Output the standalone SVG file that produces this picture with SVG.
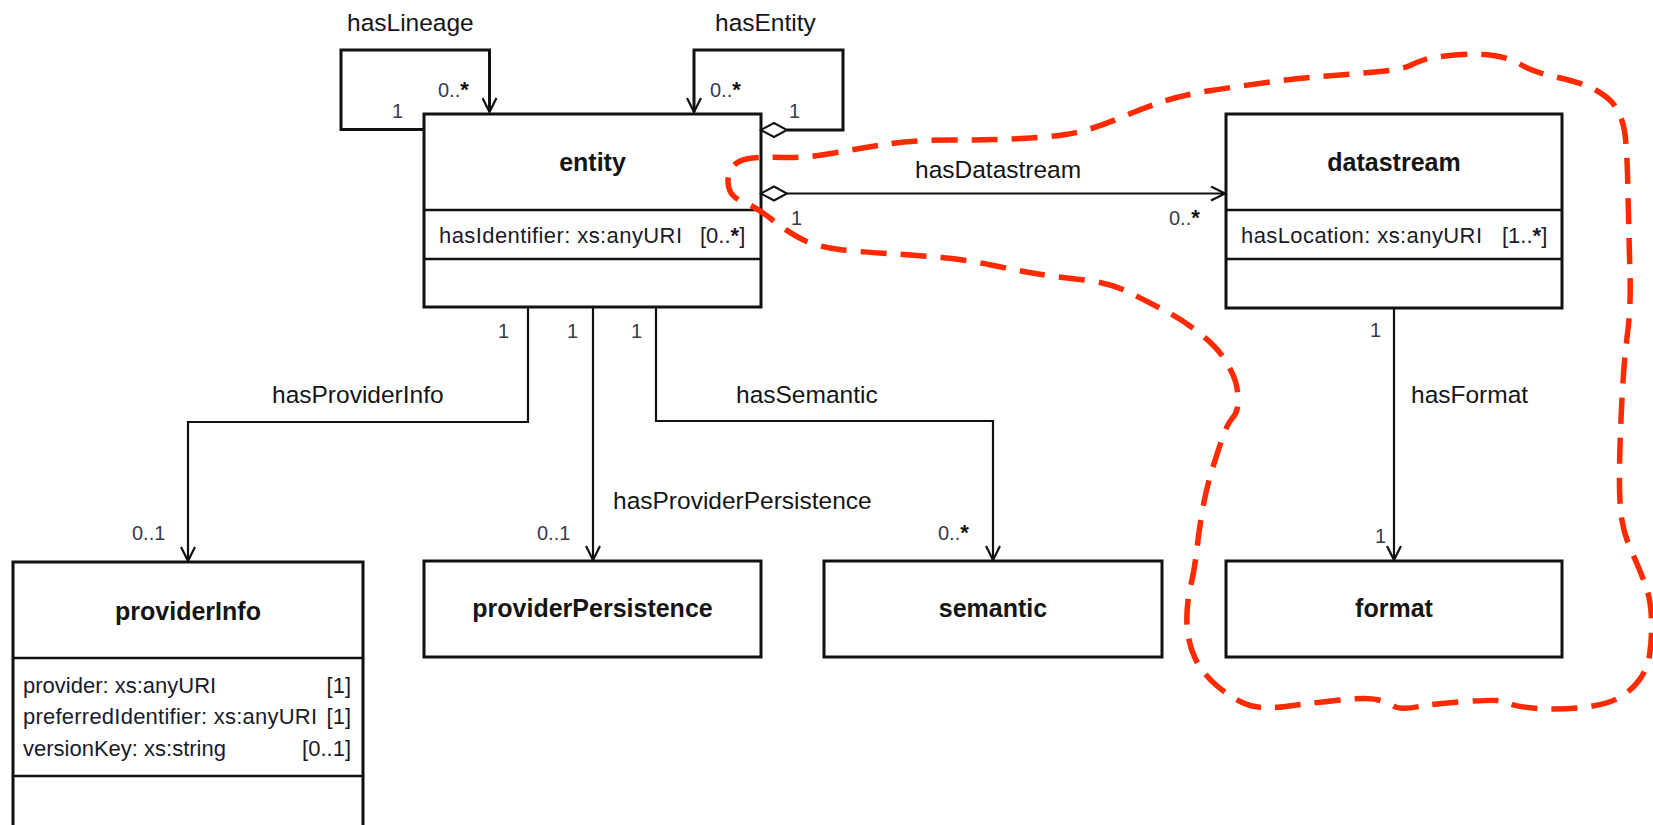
<svg xmlns="http://www.w3.org/2000/svg" width="1653" height="825" viewBox="0 0 1653 825">
<style>
text{font-family:"Liberation Sans",Arial,sans-serif;fill:#151515}
.box{fill:#fff;stroke:#111;stroke-width:3}
.div{stroke:#111;stroke-width:2.5}
.title{font-weight:bold;font-size:25px;text-anchor:middle}
.attr{font-size:22px;fill:#1a1a28}
.lbl{font-size:24.5px}
.mul{font-size:20px;fill:#3a3a48}
.mul tspan{font-weight:bold;fill:#111;font-size:22px}
.con{fill:none;stroke:#111;stroke-width:2.2}
.loop{fill:none;stroke:#111;stroke-width:3}
.dia{fill:#fff;stroke:#111;stroke-width:2}
.red{fill:none;stroke:#ff2a00;stroke-width:5.5;stroke-dasharray:26 14}
</style>
<defs>
<marker id="arr" markerUnits="userSpaceOnUse" viewBox="0 0 16 16" refX="15" refY="8" markerWidth="16" markerHeight="16" orient="auto">
<path d="M1,1 L15,8 L1,15" fill="none" stroke="#111" stroke-width="2.2"/>
</marker>
</defs>
<rect width="1653" height="825" fill="#fff"/>

<g id="entity">
<rect class="box" x="424" y="114" width="337" height="193"/>
<line class="div" x1="424" y1="210" x2="761" y2="210"/>
<line class="div" x1="424" y1="259" x2="761" y2="259"/>
<text class="title" x="592.5" y="171">entity</text>
<text class="attr" x="439" y="243" textLength="243" lengthAdjust="spacing">hasIdentifier: xs:anyURI</text>
<text class="attr" x="700" y="243">[0..<tspan font-weight="bold">*</tspan>]</text>
</g>

<g id="datastream">
<rect class="box" x="1226" y="114" width="336" height="194"/>
<line class="div" x1="1226" y1="210" x2="1562" y2="210"/>
<line class="div" x1="1226" y1="259" x2="1562" y2="259"/>
<text class="title" x="1394" y="171">datastream</text>
<text class="attr" x="1241" y="243" textLength="241" lengthAdjust="spacing">hasLocation: xs:anyURI</text>
<text class="attr" x="1502" y="243">[1..<tspan font-weight="bold">*</tspan>]</text>
</g>

<g id="providerInfo">
<rect class="box" x="13" y="562" width="350" height="270"/>
<line class="div" x1="13" y1="658" x2="363" y2="658"/>
<line class="div" x1="13" y1="776" x2="363" y2="776"/>
<text class="title" x="188" y="620">providerInfo</text>
<text class="attr" x="23" y="693">provider: xs:anyURI</text>
<text class="attr" x="351" y="693" text-anchor="end">[1]</text>
<text class="attr" x="23" y="724" textLength="294" lengthAdjust="spacing">preferredIdentifier: xs:anyURI</text>
<text class="attr" x="351" y="724" text-anchor="end">[1]</text>
<text class="attr" x="23" y="756">versionKey: xs:string</text>
<text class="attr" x="351" y="756" text-anchor="end">[0..1]</text>
</g>

<g id="providerPersistence">
<rect class="box" x="424" y="561" width="337" height="96"/>
<text class="title" x="592.5" y="617">providerPersistence</text>
</g>

<g id="semantic">
<rect class="box" x="824" y="561" width="338" height="96"/>
<text class="title" x="993" y="617">semantic</text>
</g>

<g id="format">
<rect class="box" x="1226" y="561" width="336" height="96"/>
<text class="title" x="1394" y="617">format</text>
</g>

<g id="connectors">
<!-- hasLineage -->
<path class="loop" d="M424,129.5 H341 V50 H489.5 V112" marker-end="url(#arr)"/>
<text class="lbl" x="347" y="31">hasLineage</text>
<text class="mul" x="438" y="97">0..<tspan>*</tspan></text>
<text class="mul" x="392" y="118">1</text>
<!-- hasEntity -->
<path class="loop" d="M787,130 H843 V50 H694 V112" marker-end="url(#arr)"/>
<polygon class="dia" points="761,130 774,123 787,130 774,137"/>
<text class="lbl" x="715" y="31">hasEntity</text>
<text class="mul" x="710" y="97">0..<tspan>*</tspan></text>
<text class="mul" x="789" y="118">1</text>
<!-- hasDatastream -->
<path class="con" d="M787,193.5 H1225" marker-end="url(#arr)"/>
<polygon class="dia" points="761,193.5 774,186.5 787,193.5 774,200.5"/>
<text class="lbl" x="915" y="178">hasDatastream</text>
<text class="mul" x="791" y="225">1</text>
<text class="mul" x="1169" y="225">0..<tspan>*</tspan></text>
<!-- hasProviderInfo -->
<path class="con" d="M528,308 V422 H188 V561" marker-end="url(#arr)"/>
<text class="lbl" x="272" y="403">hasProviderInfo</text>
<text class="mul" x="498" y="338">1</text>
<text class="mul" x="132" y="540">0..1</text>
<!-- hasProviderPersistence -->
<path class="con" d="M593,308 V560" marker-end="url(#arr)"/>
<text class="lbl" x="613" y="509">hasProviderPersistence</text>
<text class="mul" x="567" y="338">1</text>
<text class="mul" x="537" y="540">0..1</text>
<!-- hasSemantic -->
<path class="con" d="M656,308 V421 H993 V560" marker-end="url(#arr)"/>
<text class="lbl" x="736" y="403">hasSemantic</text>
<text class="mul" x="631" y="338">1</text>
<text class="mul" x="938" y="540">0..<tspan>*</tspan></text>
<!-- hasFormat -->
<path class="con" d="M1394,309 V560" marker-end="url(#arr)"/>
<text class="lbl" x="1411" y="403">hasFormat</text>
<text class="mul" x="1370" y="337">1</text>
<text class="mul" x="1375" y="543">1</text>
</g>

<path class="red" d="M772.5,220 Q756,207 744.5,202.5 Q733,198 730,191 Q727,184 728.5,176 Q730,168 736,163.5 Q742,159 752.5,158 Q763,157 785,157.5 Q807,158 834,153 Q861,148 887.5,144 Q914,140 950,140 Q986,140 1012.5,139 Q1039,138 1062.5,135 Q1086,132 1116,119.5 Q1146,107 1164.5,101 Q1183,95 1208,91 Q1233,87 1266.5,82.5 Q1300,78 1333.5,75.5 Q1367,73 1385,71 Q1403,69 1410,65.5 Q1417,62 1425,59.5 Q1433,57 1455,55 Q1477,53 1493.5,55.5 Q1510,58 1521.5,65 Q1533,72 1558,77.5 Q1583,83 1596.5,90.5 Q1610,98 1616,107.5 Q1622,117 1624.5,131 Q1627,145 1628,192.5 Q1629,240 1630,273.5 Q1631,307 1627.5,333.5 Q1624,360 1622,398.5 Q1620,437 1619.5,468.5 Q1619,500 1621.5,517.5 Q1624,535 1632,552.5 Q1640,570 1645.5,585 Q1651,600 1651.5,620 Q1652,640 1649.5,655 Q1647,670 1638.5,681 Q1630,692 1617.5,698.5 Q1605,705 1582.5,707.5 Q1560,710 1538.5,708.5 Q1517,707 1511,704 Q1505,701 1497.5,700.5 Q1490,700 1464.5,701.5 Q1439,703 1419.5,706.5 Q1400,710 1394.5,706.5 Q1389,703 1378.5,700 Q1368,697 1340,700 Q1312,703 1285.5,706.5 Q1259,710 1244.5,703.5 Q1230,697 1216,685 Q1202,673 1195,658 Q1188,643 1187,625 Q1186,607 1190.5,587 Q1195,567 1197,548.5 Q1199,530 1202.5,510 Q1206,490 1211,473.5 Q1216,457 1221.5,440.5 Q1227,424 1232.5,418 Q1238,412 1238,401 Q1238,390 1235.5,381.5 Q1233,373 1225,360 Q1217,347 1200,333.5 Q1183,320 1166.5,311.5 Q1150,303 1130.5,293 Q1111,283 1084,280 Q1057,277 1035.5,273.5 Q1014,270 991,265 Q968,260 941,257.5 Q914,255 887.5,253.5 Q861,252 839.5,249.5 Q818,247 803.5,240 Q789,233 772.5,220 Z"/>
</svg>
